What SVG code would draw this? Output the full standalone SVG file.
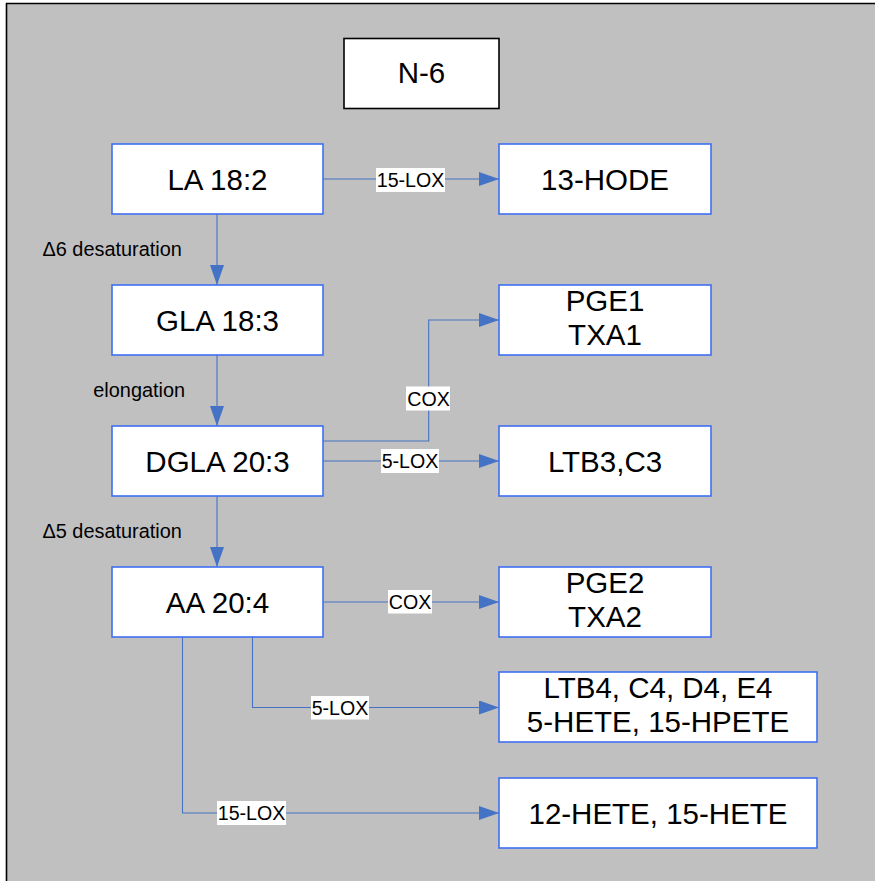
<svg xmlns="http://www.w3.org/2000/svg" width="875" height="881" viewBox="0 0 875 881">
<style>
.box{fill:#fff;stroke:#3f6ff2;stroke-width:1.6}
.tbox{fill:#fff;stroke:#000;stroke-width:1.6}
.bt{font-family:"Liberation Sans",Arial,sans-serif;font-size:29.5px;fill:#000;text-anchor:middle}
.lt{font-family:"Liberation Sans",Arial,sans-serif;font-size:19.9px;fill:#000}
.cl{font-family:"Liberation Sans",Arial,sans-serif;font-size:19.6px;fill:#000;text-anchor:middle}
.lbg{fill:#fff}
.con{fill:none;stroke:#4472c4;stroke-width:1.1}
</style>
<defs>
<marker id="ah" viewBox="0 0 20 14" refX="20" refY="7" markerWidth="20" markerHeight="14" markerUnits="userSpaceOnUse" orient="auto">
<path d="M0,0 L20,7 L0,14 z" fill="#4472c4"/>
</marker>
</defs>
<rect x="0" y="0" width="875" height="881" fill="#fff"/>
<rect x="6.5" y="3.5" width="869" height="878" fill="#c0c0c0"/>
<path d="M6.5,881 L6.5,3.5 L875,3.5" fill="none" stroke="#000" stroke-width="1.6"/>

<g id="connectors">
<path class="con" d="M323,179 L499,179" marker-end="url(#ah)"/>
<path class="con" d="M217,214 L217,285" marker-end="url(#ah)"/>
<path class="con" d="M217,355 L217,426" marker-end="url(#ah)"/>
<path class="con" d="M217,496 L217,567" marker-end="url(#ah)"/>
<path class="con" d="M323,441 L428.7,441 L428.7,320 L499,320" marker-end="url(#ah)"/>
<path class="con" d="M323,461 L499,461" marker-end="url(#ah)"/>
<path class="con" d="M323,602 L499,602" marker-end="url(#ah)"/>
<path class="con" d="M252.5,637 L252.5,707.5 L499,707.5" marker-end="url(#ah)"/>
<path class="con" d="M182.5,637 L182.5,813 L499,813" marker-end="url(#ah)"/>
<rect class="lbg" x="376" y="168" width="69" height="24"/>
<text class="cl" x="410.5" y="187">15-LOX</text>
<rect class="lbg" x="406" y="386.5" width="44" height="24"/>
<text class="cl" x="428.5" y="405.5">COX</text>
<rect class="lbg" x="381" y="449" width="58" height="24"/>
<text class="cl" x="410" y="468">5-LOX</text>
<rect class="lbg" x="388" y="590" width="44" height="23.5"/>
<text class="cl" x="410" y="609">COX</text>
<rect class="lbg" x="311" y="696" width="58" height="23.5"/>
<text class="cl" x="340" y="715">5-LOX</text>
<rect class="lbg" x="217" y="801" width="69" height="24"/>
<text class="cl" x="251.5" y="820">15-LOX</text>
</g>

<text class="lt" x="42.5" y="256">Δ6 desaturation</text>
<text class="lt" x="93.3" y="397">elongation</text>
<text class="lt" x="42.5" y="538">Δ5 desaturation</text>

<g id="n6"><rect class="tbox" x="344" y="38.5" width="155" height="70"/><text class="bt" x="421.5" y="83">N-6</text></g>
<g id="la"><rect class="box" x="112" y="144" width="211" height="70"/><text class="bt" x="217.5" y="189.5">LA 18:2</text></g>
<g id="hode"><rect class="box" x="499" y="144" width="212" height="70"/><text class="bt" x="605" y="189.5">13-HODE</text></g>
<g id="gla"><rect class="box" x="112" y="285" width="211" height="70"/><text class="bt" x="217.5" y="330.5">GLA 18:3</text></g>
<g id="pge1"><rect class="box" x="499" y="285" width="212" height="70"/><text class="bt" x="605" y="311">PGE1</text><text class="bt" x="605" y="344.7">TXA1</text></g>
<g id="dgla"><rect class="box" x="112" y="426" width="211" height="70"/><text class="bt" x="217.5" y="471.5">DGLA 20:3</text></g>
<g id="ltb3"><rect class="box" x="499" y="426" width="212" height="70"/><text class="bt" x="605" y="471.5">LTB3,C3</text></g>
<g id="aa"><rect class="box" x="112" y="567" width="211" height="70"/><text class="bt" x="217.5" y="612.5">AA 20:4</text></g>
<g id="pge2"><rect class="box" x="499" y="567" width="212" height="70"/><text class="bt" x="605" y="593">PGE2</text><text class="bt" x="605" y="626.7">TXA2</text></g>
<g id="ltb4"><rect class="box" x="499" y="672" width="318" height="70"/><text class="bt" x="658" y="698">LTB4, C4, D4, E4</text><text class="bt" x="658" y="731.7">5-HETE, 15-HPETE</text></g>
<g id="hete"><rect class="box" x="499" y="778" width="318" height="70"/><text class="bt" x="658" y="823.5">12-HETE, 15-HETE</text></g>
</svg>
